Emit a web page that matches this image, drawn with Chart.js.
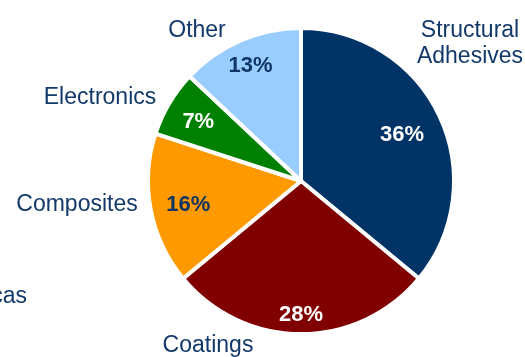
<!DOCTYPE html>
<html>
<head>
<meta charset="utf-8">
<script src="https://cdn.jsdelivr.net/npm/chart.js@4"></script>
<style>
  html, body { margin: 0; padding: 0; background: #fff; }
  .container { width: 525px; height: 357px; position: relative; }
</style>
</head>
<body>
<div class="container"><canvas id="grafico"></canvas></div>
<script>
const categorias = ['Structural Adhesives', 'Coatings', 'Composites', 'Electronics', 'Other'];
const valores = [36, 28, 16, 7, 13];
const cores = ['#003366', '#800000', '#FF9900', '#008000', '#99CCFF'];

const corTexto = '#12396A';

// cor do percentual dentro de cada fatia e distancia relativa ao raio
const corPercentual = ['#ffffff', '#ffffff', '#0E3563', '#ffffff', '#0E3563'];
const raioPercentual = [0.73, 0.86, 0.75, 0.78, 0.83];

// rotulos externos (texto fixo no slide)
const rotulosExternos = [
    { linhas: ['Structural', 'Adhesives'], x: 470, y: 37, align: 'center' },
    { linhas: ['Coatings'], x: 208, y: 352, align: 'center' },
    { linhas: ['Composites'], x: 77, y: 211, align: 'center' },
    { linhas: ['Electronics'], x: 100, y: 104, align: 'center' },
    { linhas: ['Other'], x: 197, y: 37, align: 'center' },
    { linhas: ['cas'], x: 27, y: 303, align: 'right' }
];

const rotulosPlugin = {
    id: 'rotulos',
    afterDatasetsDraw(chart) {
        const ctx = chart.ctx;
        const meta = chart.getDatasetMeta(0);
        ctx.save();
        ctx.textAlign = 'center';
        ctx.textBaseline = 'alphabetic';
        ctx.font = 'bold 22px "Liberation Sans", Arial, sans-serif';
        meta.data.forEach((arc, i) => {
            const p = arc.getProps(['x', 'y', 'startAngle', 'endAngle', 'outerRadius'], true);
            const meio = (p.startAngle + p.endAngle) / 2;
            const r = p.outerRadius * raioPercentual[i];
            ctx.fillStyle = corPercentual[i];
            // +8 para centralizar a altura das maiusculas no ponto
            ctx.fillText(valores[i] + '%', p.x + Math.cos(meio) * r, p.y + Math.sin(meio) * r + 8);
        });

        ctx.font = '23px "Liberation Sans", Arial, sans-serif';
        ctx.fillStyle = corTexto;
        rotulosExternos.forEach(r => {
            ctx.textAlign = r.align;
            r.linhas.forEach((l, k) => ctx.fillText(l, r.x, r.y + k * 26));
        });
        ctx.restore();
    }
};

const chart = new Chart(document.getElementById('grafico'), {
    type: 'pie',
    data: {
        labels: categorias,
        datasets: [{
            data: valores,
            backgroundColor: cores,
            borderColor: '#ffffff',
            borderWidth: 4
        }]
    },
    options: {
        responsive: true,
        maintainAspectRatio: false,
        animation: false,
        layout: {
            padding: { left: 146, right: 69, top: 26, bottom: 21 }
        },
        plugins: {
            legend: { display: false },
            tooltip: { enabled: false },
            title: { display: false }
        }
    },
    plugins: [rotulosPlugin]
});
</script>
</body>
</html>
